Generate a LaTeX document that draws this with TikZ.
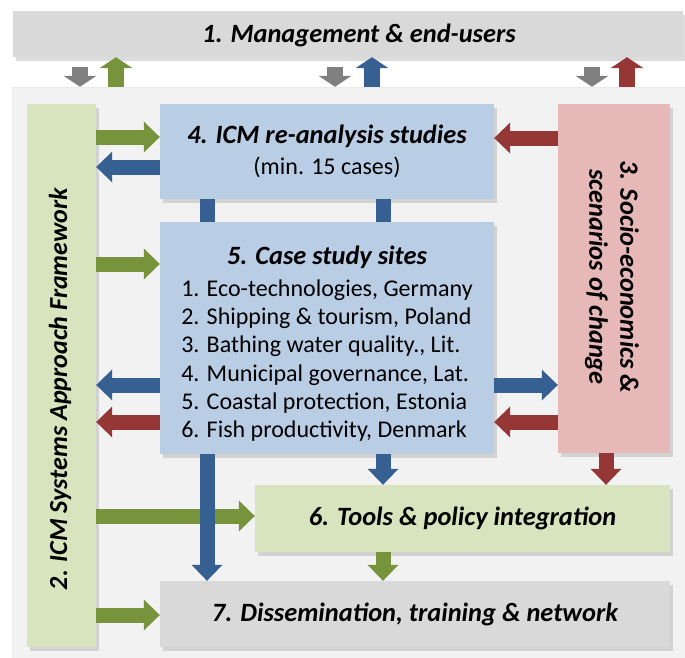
\documentclass[tikz,border=0pt]{standalone}
\usepackage{fontspec}
\setmainfont{Carlito}
\usetikzlibrary{arrows.meta,shadows,calc}
\definecolor{barGray}{HTML}{D9D9D9}
\definecolor{panelGray}{HTML}{F2F2F2}
\definecolor{boxGreen}{HTML}{D7E4BD}
\definecolor{boxBlue}{HTML}{B9CDE5}
\definecolor{boxRed}{HTML}{E6B9B8}
\definecolor{arrGreen}{HTML}{77933C}
\definecolor{arrBlue}{HTML}{376092}
\definecolor{arrRed}{HTML}{953735}
\definecolor{arrGray}{HTML}{808080}
\newcommand\ttlfont{\fontsize{26.4}{31}\selectfont\bfseries\itshape}
\begin{document}
\begin{tikzpicture}[x=1pt,y=-1pt,
  box/.style={rectangle, inner sep=0pt, draw=none,
    drop shadow={shadow xshift=2.5pt, shadow yshift=-3.5pt, opacity=0.28}},
  ttl/.style={font=\ttlfont},
  blk/.style={line width=15pt, -{Triangle[length=16pt,width=31pt,line width=0pt]}},
  conn/.style={line width=15pt},
  small/.style={line width=16pt, -{Triangle[length=11pt,width=33pt,line width=0pt]}}]
\useasboundingbox (0,0) rectangle (685,657);
\node[rectangle, fill=panelGray, draw=black!8, minimum width=690pt, minimum height=583pt] (panel) at (357,378.5) {};
\node[box, fill=barGray, minimum width=670pt, minimum height=46pt] (b1) at (348,34) {};
\node[ttl, inner sep=0pt] (t1) at (359,35) {1. Management \& end-users};
\node[box, fill=boxGreen, minimum width=69pt, minimum height=543pt] (b2) at (61.5,375.5) {};
\node[font=\fontsize{26}{30}\selectfont\bfseries\itshape, rotate=90, inner sep=0pt] (t2) at (60,389) {2. ICM Systems Approach Framework};
\node[box, fill=boxRed, minimum width=112pt, minimum height=349pt] (b3) at (614,278.5) {};
\node[ttl, rotate=-90, align=center, inner sep=0pt] (t3) at (612,277) {3. Socio-economics \&\\scenarios of change};
\node[box, fill=boxBlue, minimum width=334pt, minimum height=95pt, align=center,
  font=\fontsize{24}{31}\selectfont] (b4) at (327,151.5)
  {{\ttlfont 4. ICM re-analysis studies}\\(min. 15 cases)};
\node[box, fill=boxBlue, minimum width=334pt, minimum height=232pt] (b5) at (327,338) {};
\node[align=center, inner sep=0pt, font=\fontsize{24}{32}\selectfont] (t5) at (327,346)
  {{\ttlfont 5. Case study sites}\\
   {\fontsize{24}{28.2}\selectfont\begin{tabular}[t]{@{}l@{}}
   1. Eco-technologies, Germany\\
   2. Shipping \& tourism, Poland\\
   3. Bathing water quality., Lit.\\
   4. Municipal governance, Lat.\\
   5. Coastal protection, Estonia\\
   6. Fish productivity, Denmark
   \end{tabular}}};
\node[box, fill=boxGreen, minimum width=415pt, minimum height=67pt, ttl] (b6) at (462.5,518.5) {6. Tools \& policy integration};
\node[box, fill=barGray, minimum width=510pt, minimum height=66pt, ttl] (b7) at (415,614) {7. Dissemination, training \& network};
% top arrows
\draw[small, arrGray] ($(b1.south -| 80,0)+(0,10)$) -- (panel.north -| 80,0);
\draw[small, arrGreen] (panel.north -| 116,0) -- (b1.south -| 116,0);
\draw[small, arrGray] ($(b1.south -| 335,0)+(0,10)$) -- (panel.north -| 335,0);
\draw[small, arrBlue] (panel.north -| 372,0) -- (b1.south -| 372,0);
\draw[small, arrGray] ($(b1.south -| 592,0)+(0,10)$) -- (panel.north -| 592,0);
\draw[small, arrRed] (panel.north -| 627,0) -- (b1.south -| 627,0);
% inner arrows
\draw[blk, arrGreen] (b2.east |- 0,137) -- (b4.west |- 0,137);
\draw[blk, arrBlue] (b4.west |- 0,167) -- (b2.east |- 0,167);
\draw[blk, arrRed] (b3.west |- 0,138) -- (b4.east |- 0,138);
\draw[conn, arrBlue] (b4.south -| 207,0) -- (b5.north -| 207,0);
\draw[conn, arrBlue] (b4.south -| 383,0) -- (b5.north -| 383,0);
\draw[blk, arrGreen] (b2.east |- 0,264) -- (b5.west |- 0,264);
\draw[blk, arrBlue] (b5.west |- 0,385) -- (b2.east |- 0,385);
\draw[blk, arrRed] (b5.west |- 0,422) -- (b2.east |- 0,422);
\draw[blk, arrBlue] (b5.east |- 0,385) -- (b3.west |- 0,385);
\draw[blk, arrRed] (b3.west |- 0,422) -- (b5.east |- 0,422);
\draw[blk, arrBlue] (b5.south -| 383,0) -- (b6.north -| 383,0);
\draw[blk, arrRed] (b3.south -| 606,0) -- (b6.north -| 606,0);
\draw[blk, arrGreen] (b2.east |- 0,516) -- (b6.west |- 0,516);
\draw[blk, arrBlue] (b5.south -| 207,0) -- (b7.north -| 207,0);
\draw[blk, arrGreen] (b6.south -| 383,0) -- (b7.north -| 383,0);
\draw[blk, arrGreen] (b2.east |- 0,615) -- (b7.west |- 0,615);
\end{tikzpicture}
\end{document}
